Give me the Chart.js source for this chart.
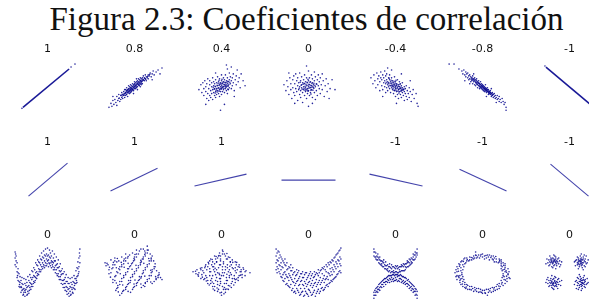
<!DOCTYPE html>
<html><head><meta charset="utf-8">
<script src="https://cdn.jsdelivr.net/npm/chart.js@4/dist/chart.umd.min.js"></script>
<style>
html,body{margin:0;padding:0;background:#fff;width:589px;height:300px;overflow:hidden;position:relative}
#title{position:absolute;left:48px;top:3px;width:517px;text-align:center;white-space:nowrap;font-family:"Liberation Serif",serif;font-size:33px;line-height:33px;color:#111}
canvas{position:absolute}
</style></head><body>
<div id="title">Figura 2.3: Coeficientes de correlación</div>
<script>
// ---- labels ----
const row1Labels = ['1','0.8','0.4','0','-0.4','-0.8','-1'];
const row2Labels = ['1','1','1',' ','-1','-1','-1'];
const row3Labels = ['0','0','0','0','0','0','0'];

// ---- row 1 data (x, y offsets in panel units) ----
const lineRow1Pos = [[-25,-21],[22,18]];
const dotsRow1Pos = [[-26,-22],[24,20],[28,23]];
const lineRow1Neg = [[-24,20],[26,-22]];
const dotsRow1Neg = [[-25,21]];
const cloud08 = [[-26,-21],[-24,-17],[-23,-20],[-22,-14],[-21,-18],[-20,-13],[-19,-16],[-18,-10],[-17,-14],[-16,-12],[-16,-8],[-15,-15],[-14,-9],[-14,-13],[-13,-6],[-13,-11],[-12,-8],[-12,-12],[-11,-5],[-11,-9],[-10,-7],[-10,-11],[-10,-3],[-9,-6],[-9,-9],[-8,-4],[-8,-8],[-8,-1],[-7,-6],[-7,-3],[-7,-10],[-6,-5],[-6,-2],[-6,1],[-5,-4],[-5,-7],[-5,0],[-4,-3],[-4,-1],[-4,2],[-4,-6],[-3,-2],[-3,1],[-3,-5],[-2,0],[-2,-3],[-2,3],[-1,-1],[-1,2],[-1,-4],[0,0],[0,3],[0,-2],[0,5],[1,1],[1,-2],[1,4],[2,2],[2,-1],[2,5],[3,3],[3,0],[3,6],[3,-3],[4,2],[4,5],[4,8],[5,4],[5,1],[5,7],[6,3],[6,6],[6,9],[7,5],[7,2],[7,8],[8,6],[8,9],[8,3],[9,7],[9,11],[10,6],[10,9],[11,8],[11,12],[12,10],[12,6],[13,9],[14,12],[14,8],[15,11],[16,14],[17,10],[18,13],[19,16],[20,12],[22,15],[24,17],[28,19],[26,13],[-22,-10],[-18,-19],[18,7],[-1,-7],[2,8],[-9,-3],[6,0],
[-12.5,-9.5],[-11.5,-7.5],[-10.5,-8.5],[-9.5,-6.5],[-8.5,-5.5],[-8.5,-7.5],[-7.5,-4.5],[-6.5,-3.5],[-6.5,-6.5],[-5.5,-2.5],[-5.5,-5.5],[-4.5,-4.5],[-4.5,-1.5],[-3.5,-3.5],[-3.5,-0.5],[-2.5,-1.5],[-2.5,-3.5],[-1.5,0.5],[-1.5,-2.5],[-0.5,1.5],[-0.5,-0.5],[0.5,0.5],[0.5,2.5],[1.5,1.5],[1.5,-0.5],[2.5,3.5],[2.5,0.5],[3.5,2.5],[3.5,4.5],[4.5,3.5],[4.5,1.5],[5.5,5.5],[5.5,2.5],[6.5,4.5],[6.5,6.5],[7.5,5.5],[7.5,3.5],[8.5,7.5],[9.5,6.5],[10.5,8.5],[11.5,7.5],[-13.5,-8.5],[13.5,10.5],[-15.5,-11.5],[15.5,12.5]];
const cloud04 = [[-23,-3],[-21,2],[-20,-6],[-19,4],[-18,-2],[-18,-9],[-17,6],[-16,0],[-16,-5],[-15,-12],[-15,3],[-14,-7],[-14,8],[-13,-2],[-13,-14],[-12,2],[-12,-9],[-12,6],[-11,-4],[-11,-11],[-10,0],[-10,4],[-10,-7],[-9,-3],[-9,9],[-9,-13],[-8,1],[-8,-6],[-8,5],[-7,-2],[-7,-9],[-7,3],[-6,-5],[-6,0],[-6,7],[-6,-11],[-5,-2],[-5,4],[-5,-8],[-4,1],[-4,-4],[-4,10],[-3,-1],[-3,5],[-3,-7],[-2,2],[-2,-3],[-2,8],[-2,-10],[-1,0],[-1,4],[-1,-5],[0,1],[0,-2],[0,6],[0,-8],[0,12],[1,3],[1,-1],[1,-5],[2,0],[2,5],[2,-3],[2,9],[3,2],[3,-6],[3,7],[4,1],[4,-2],[4,4],[4,12],[5,-4],[5,6],[5,0],[6,3],[6,-7],[6,9],[7,1],[7,5],[7,-3],[8,7],[8,-1],[8,14],[9,3],[9,10],[10,-2],[10,6],[11,1],[11,9],[12,4],[12,13],[13,-4],[14,7],[15,2],[15,11],[16,17],[17,5],[18,9],[19,-1],[20,13],[22,6],[24,1],[3,-18],[-1,-24],[10,20],[-6,14],[13,-10],[-16,-18],[6,18],[5,22],
[-7.5,-2.5],[-6.5,0.5],[-5.5,-3.5],[-4.5,1.5],[-4.5,-5.5],[-3.5,-1.5],[-3.5,3.5],[-2.5,-4.5],[-2.5,1.5],[-1.5,-1.5],[-1.5,3.5],[-0.5,-2.5],[-0.5,2.5],[0.5,-0.5],[0.5,3.5],[1.5,0.5],[1.5,4.5],[2.5,-1.5],[2.5,2.5],[3.5,0.5],[3.5,4.5],[4.5,-0.5],[4.5,2.5],[5.5,1.5],[5.5,4.5],[6.5,0.5],[6.5,5.5],[7.5,2.5],[-8.5,-0.5],[8.5,4.5],[-6.5,-6.5],[6.5,-2.5],[0.5,7.5],[-2.5,6.5]];
const cloud00 = [[-25,2],[-23,-4],[-22,6],[-21,0],[-20,-8],[-19,9],[-18,3],[-18,-3],[-17,-12],[-16,7],[-16,-1],[-15,11],[-15,-6],[-14,3],[-14,-9],[-13,-2],[-13,13],[-12,6],[-12,-5],[-11,1],[-11,-14],[-11,9],[-10,-3],[-10,4],[-9,-8],[-9,0],[-9,14],[-8,6],[-8,-4],[-8,-11],[-7,2],[-7,-1],[-7,10],[-6,-6],[-6,4],[-6,-16],[-5,0],[-5,7],[-5,-3],[-4,-9],[-4,3],[-4,12],[-3,-1],[-3,5],[-3,-5],[-2,1],[-2,9],[-2,-12],[-1,-2],[-1,4],[-1,-7],[0,0],[0,6],[0,-4],[0,16],[0,-20],[1,2],[1,-9],[1,9],[2,-1],[2,5],[2,-6],[3,1],[3,12],[3,-3],[4,4],[4,-11],[4,8],[5,-1],[5,2],[6,-6],[6,6],[6,15],[7,0],[7,-13],[7,10],[8,3],[8,-4],[9,7],[9,-9],[10,1],[10,12],[11,-2],[11,5],[12,-7],[12,9],[13,2],[14,-3],[14,13],[15,6],[16,-10],[17,1],[18,8],[19,-5],[20,3],[22,-2],[24,7],[27,-3],[-20,14],[-2,21],[4,-17],[21,-12],[-14,-17],
[-7.5,1.5],[-6.5,-2.5],[-5.5,2.5],[-4.5,-1.5],[-4.5,3.5],[-3.5,0.5],[-3.5,-3.5],[-2.5,2.5],[-2.5,-2.5],[-1.5,-3.5],[-1.5,4.5],[-0.5,1.5],[-0.5,-4.5],[0.5,2.5],[0.5,-1.5],[1.5,-0.5],[1.5,4.5],[2.5,1.5],[2.5,-3.5],[3.5,3.5],[3.5,-0.5],[4.5,0.5],[4.5,-3.5],[5.5,3.5],[5.5,-1.5],[6.5,1.5],[-8.5,4.5],[-0.5,7.5],[2.5,-7.5],[8.5,2.5],[-9.5,-1.5]];
const cloudNeg04 = [[-25,9],[-23,3],[-22,12],[-21,6],[-20,-1],[-19,14],[-18,8],[-18,2],[-17,11],[-16,-4],[-16,5],[-15,15],[-15,9],[-14,1],[-14,7],[-13,12],[-13,-3],[-12,4],[-12,9],[-11,0],[-11,16],[-11,6],[-10,-6],[-10,3],[-10,11],[-9,7],[-9,-1],[-9,13],[-8,2],[-8,5],[-8,-4],[-7,9],[-7,0],[-7,4],[-6,-2],[-6,7],[-6,12],[-5,1],[-5,-6],[-5,5],[-4,3],[-4,-1],[-4,9],[-3,6],[-3,-3],[-3,1],[-2,-7],[-2,4],[-2,0],[-1,2],[-1,-4],[-1,10],[0,0],[0,5],[0,-2],[0,-10],[1,3],[1,-5],[1,1],[2,-1],[2,7],[2,-8],[3,2],[3,-3],[3,-12],[4,0],[4,-5],[4,5],[5,-2],[5,-8],[5,3],[6,-4],[6,1],[6,-11],[7,-1],[7,-6],[7,4],[8,-3],[8,-9],[9,0],[9,-5],[9,-14],[10,-2],[10,-7],[11,-10],[11,1],[12,-4],[12,-13],[13,-7],[14,-1],[14,-11],[15,-5],[16,-15],[17,-8],[18,-3],[19,-12],[21,-7],[23,-20],[22,-17],[-4,17],[6,13],[-13,-10],[15,6],[1,-17],[-8,19],
[-7.5,3.5],[-6.5,1.5],[-5.5,3.5],[-4.5,1.5],[-4.5,6.5],[-3.5,0.5],[-3.5,4.5],[-2.5,2.5],[-2.5,-1.5],[-1.5,1.5],[-1.5,5.5],[-0.5,-0.5],[-0.5,3.5],[0.5,1.5],[0.5,-3.5],[1.5,-1.5],[1.5,2.5],[2.5,0.5],[2.5,-4.5],[3.5,0.5],[3.5,-2.5],[4.5,-1.5],[4.5,2.5],[5.5,-0.5],[5.5,-4.5],[6.5,-2.5],[7.5,-3.5],[-9.5,4.5],[-6.5,8.5],[-1.5,-3.5],[3.5,-6.5],[8.5,-2.5],[0.5,6.5]];
const cloudNeg08 = [[-21,16],[-20,13],[-19,17],[-18,12],[-17,15],[-17,10],[-16,13],[-15,9],[-15,14],[-14,11],[-14,7],[-13,12],[-13,8],[-12,10],[-12,5],[-11,9],[-11,6],[-10,11],[-10,7],[-10,3],[-9,8],[-9,5],[-8,9],[-8,6],[-8,2],[-7,7],[-7,4],[-7,1],[-6,6],[-6,3],[-6,8],[-5,5],[-5,2],[-5,-1],[-4,4],[-4,1],[-4,6],[-3,3],[-3,0],[-3,-2],[-2,2],[-2,5],[-2,-1],[-1,1],[-1,-2],[-1,3],[0,0],[0,2],[0,-3],[1,-1],[1,1],[1,-4],[2,-2],[2,0],[2,-5],[3,-3],[3,-1],[3,2],[4,-4],[4,-2],[4,-6],[5,-3],[5,-5],[5,-1],[6,-6],[6,-3],[6,-8],[7,-5],[7,-7],[8,-4],[8,-8],[8,-6],[9,-7],[9,-10],[10,-6],[10,-9],[11,-8],[11,-11],[12,-10],[12,-7],[13,-12],[13,-9],[14,-11],[15,-9],[15,-13],[16,-12],[17,-10],[17,-15],[18,-13],[19,-16],[20,-12],[21,-15],[22,-18],[23,-16],[24,-21],[24,-24],[-29,23],[-34,23],[-24,18],[-18,6],[-9,13],[9,-2],[14,-16],[-13,3],[4,-10],
[-9.5,6.5],[-8.5,7.5],[-7.5,5.5],[-6.5,4.5],[-5.5,4.5],[-5.5,2.5],[-4.5,3.5],[-3.5,1.5],[-3.5,3.5],[-2.5,0.5],[-2.5,2.5],[-1.5,0.5],[-1.5,-0.5],[-0.5,-0.5],[-0.5,1.5],[0.5,-1.5],[0.5,0.5],[1.5,-2.5],[1.5,-0.5],[2.5,-1.5],[2.5,-3.5],[3.5,-2.5],[3.5,-4.5],[4.5,-3.5],[5.5,-4.5],[6.5,-4.5],[6.5,-6.5],[7.5,-5.5],[8.5,-6.5],[9.5,-8.5],[-10.5,8.5],[10.5,-7.5],[-11.5,7.5]];

// ---- row 2 data: segment end points ----
const row2Lines = [
  [[-19,-16],[20,17]],
  [[-24,-11],[23,12]],
  [[-27,-6],[25,6]],
  [[-27,0],[27,0]],
  [[-26,6],[27,-6]],
  [[-23,11],[24,-11]],
  [[-19,16],[19,-16]]
];

// ---- row 3 data ----
const shapeW = [[-33,8],[-33,21],[-32,6],[-32,17],[-31,-5],[-31,10],[-30,-8],[-30,4],[-29,-14],[-29,-1],[-28,-15],[-28,-4],[-27,-20],[-27,-8],[-26,-18],[-26,-5],[-25,-23],[-25,-12],[-24,-20],[-24,-6],[-23,-24],[-23,-11],[-22,-17],[-22,-7],[-21,-23],[-21,-10],[-20,-19],[-20,-4],[-19,-21],[-19,-8],[-18,-15],[-18,-2],[-17,-17],[-17,-5],[-16,-12],[-16,2],[-15,-14],[-15,1],[-14,-9],[-14,5],[-13,-10],[-13,3],[-12,-5],[-12,10],[-11,-6],[-11,8],[-10,-1],[-10,13],[-9,-2],[-9,11],[-8,3],[-8,17],[-7,1],[-7,14],[-6,6],[-6,20],[-5,4],[-5,16],[-4,8],[-4,22],[-3,5],[-3,18],[-2,10],[-2,24],[-1,7],[-1,19],[0,12],[0,25],[1,6],[1,18],[2,9],[2,23],[3,7],[3,20],[4,5],[4,17],[5,8],[5,22],[6,3],[6,15],[7,5],[7,19],[8,0],[8,12],[9,3],[9,16],[10,-3],[10,9],[11,-1],[11,13],[12,-7],[12,6],[13,-4],[13,9],[14,-11],[14,2],[15,-8],[15,4],[16,-15],[16,-1],[17,-11],[17,1],[18,-18],[18,-5],[19,-14],[19,-2],[20,-22],[20,-9],[21,-17],[21,-5],[22,-24],[22,-11],[23,-19],[23,-6],[24,-22],[24,-10],[25,-17],[25,-5],[26,-21],[26,-9],[27,-16],[27,-3],[28,-17],[28,-6],[29,-11],[29,2],[30,-10],[30,5],[31,-3],[31,11],[32,1],[32,15],[33,10],[33,24],
[-33,15],[-31,1],[-29,-9],[-27,-14],[-25,-17],[-23,-18],[-21,-15],[-19,-13],[-17,-11],[-15,-5],[-13,-4],[-11,1],[-9,4],[-7,8],[-5,10],[-3,12],[-1,14],[1,13],[3,15],[5,11],[7,12],[9,8],[11,5],[13,1],[15,-1],[17,-7],[19,-9],[21,-11],[23,-14],[25,-12],[27,-10],[29,-6],[31,4],[33,17],
[-32,12],[-30,0],[-28,-10],[-26,-11],[-24,-16],[-22,-13],[-20,-14],[-18,-10],[-16,-7],[-14,-3],[-12,0],[-10,7],[-8,10],[-6,13],[-4,15],[-2,17],[0,17],[2,16],[4,12],[6,10],[8,7],[10,5],[12,2],[14,-2],[16,-8],[18,-11],[20,-15],[22,-16],[24,-15],[26,-15],[28,-11],[30,-4],[32,6],
[-32.5,19],[-30.5,-3],[-28.5,-12],[-26.5,-15],[-24.5,-22],[-22.5,-20],[-20.5,-22],[-18.5,-18],[-16.5,-14],[-14.5,-11],[-12.5,-8],[-10.5,-3],[-8.5,1],[-6.5,3],[-4.5,6],[-2.5,7],[-0.5,9],[1.5,10],[3.5,10],[5.5,6],[7.5,3],[9.5,-1],[11.5,-4],[13.5,-7],[15.5,-12],[17.5,-15],[19.5,-19],[21.5,-21],[23.5,-23],[25.5,-20],[27.5,-13],[29.5,-8],[31.5,-1],[32.5,20]];
const shapeSquare = [[-30,10],[-24,13],[-20,15],[-13,16],[-9,19],[-2,20],[2,23],[9,24],[13,27],
[-29,7],[-22,8],[-18,11],[-11,12],[-7,15],[0,16],[4,19],[11,20],[14,23],
[-26,3],[-22,5],[-15,6],[-11,9],[-3,9],[0,13],[8,14],[11,17],[18,17],
[-26,-1],[-18,1],[-15,3],[-7,4],[-4,7],[4,7],[7,11],[15,12],[17,15],
[-22,-7],[-19,-3],[-11,-3],[-7,1],[0,1],[4,5],[11,5],[15,9],[21,9],
[-22,-10],[-15,-9],[-11,-5],[-4,-5],[0,-1],[8,-1],[11,3],[18,3],[21,6],
[-18,-16],[-15,-12],[-7,-12],[-4,-8],[4,-8],[7,-4],[15,-3],[18,1],[25,0],
[-19,-18],[-11,-18],[-8,-14],[0,-14],[3,-10],[11,-10],[15,-6],[22,-6],[25,-2],
[-15,-23],[-12,-19],[-4,-20],[-1,-15],[7,-15],[11,-11],[18,-11],[22,-7],[28,-7],
[-27,8],[-20,12],[-16,12],[-9,15],[-5,18],[2,19],[5,22],[13,23],
[-23,4],[-20,8],[-13,8],[-9,12],[-1,12],[2,16],[9,16],[13,20],
[-24,0],[-16,4],[-13,6],[-5,6],[-2,10],[6,10],[9,14],[17,14],
[-20,-4],[-17,0],[-9,0],[-6,4],[2,4],[6,8],[13,8],[17,12],
[-20,-8],[-13,-6],[-9,-2],[-2,-2],[2,2],[9,2],[13,6],[20,6],
[-17,-13],[-13,-9],[-6,-8],[-2,-4],[5,-4],[9,0],[17,0],[20,4],
[-17,-15],[-9,-15],[-6,-11],[2,-11],[5,-7],[13,-7],[17,-3],[24,-3],
[-13,-21],[-9,-17],[-2,-17],[2,-13],[9,-13],[13,-9],[20,-9],[24,-5],
[-28,9.5],[-21.5,10.5],[-17.5,14.5],[-10.5,14],[-6.5,16.5],[0.5,18.5],[6.5,24],[10.5,22],[-25.5,5.5],[-18.5,5],[-13.5,10.5],[-6.5,9.5],[-0.5,14.5],[6.5,12.5],[10.5,18.5],[16,19],[-24.5,-4.5],[-14.5,-1],[-10.5,5.5],[-2.5,3.5],[1.5,7.5],[9.5,9.5],[14.5,14.5],[19.5,12],[-18.5,-10.5],[-12,-12.5],[-4.5,-10],[0.5,-7.5],[6.5,-5.5],[10.5,-3.5],[16.5,2.5],[22.5,2],[-16.5,-19.5],[-6.5,-19],[-0.5,-11.5],[6.5,-11.5],[10.5,-14],[16.5,-9.5],[21.5,-4],[26.5,-5]];
const shapeDiamond = [[-29,1],[-25,3],[-24,-2],[-21,-6],[-23,0],[-20,5],[-18,-7],[-16,-3],[-19,2],[-16,8],[-14,-11],[-15,-5],[-12,1],[-14,6],[-12,12],[-9,-14],[-11,-8],[-9,-3],[-12,4],[-10,8],[-11,14],[-7,-18],[-8,-11],[-5,-5],[-7,1],[-8,6],[-5,11],[-7,17],[-4,-19],[-2,-13],[-4,-9],[-2,-2],[-5,3],[-2,8],[-4,15],[-2,20],[0,-23],[2,-17],[-1,-11],[-1,-6],[1,0],[1,6],[-1,12],[-1,17],[1,23],[4,-20],[3,-15],[5,-8],[2,-3],[4,3],[2,9],[5,14],[3,19],[7,-17],[5,-11],[8,-5],[7,1],[6,5],[9,11],[7,16],[10,-15],[11,-9],[10,-2],[12,4],[10,8],[11,13],[14,-10],[13,-6],[15,0],[14,5],[14,11],[17,-8],[18,-3],[16,3],[18,8],[21,-5],[20,1],[22,5],[24,-3],[25,2],[29,0],
[-26,-1],[-21,3],[-20,-2],[-17,-6],[-18,0],[-17,5],[-14,-8],[-12,-3],[-15,3],[-13,9],[-11,-11],[-10,-6],[-11,1],[-9,6],[-9,11],[-7,-14],[-6,-8],[-6,-2],[-8,3],[-7,9],[-6,14],[-3,-17],[-4,-12],[-2,-6],[-4,0],[-3,5],[-5,11],[-3,17],[0,-20],[1,-14],[-1,-9],[0,-3],[1,3],[-1,8],[-1,14],[1,19],[4,-17],[3,-11],[5,-5],[3,0],[4,6],[2,11],[4,17],[7,-13],[6,-8],[8,-3],[8,3],[6,8],[6,14],[10,-11],[11,-6],[9,0],[11,5],[9,11],[14,-7],[13,-3],[14,2],[15,8],[17,-5],[19,1],[17,6],[21,-2],[20,3],[24,1],
[-23.5,-3.5],[-19.5,-4.5],[-15.5,-8.5],[-12.5,-12.5],[-8.5,-16.5],[-4.5,-15.5],[-1.5,-20.5],[2.5,-21.5],[5.5,-16.5],[8.5,-13.5],[12.5,-12.5],[15.5,-6.5],[19.5,-2.5],[22.5,3.5],[18.5,5.5],[15.5,10.5],[11.5,10.5],[8.5,15.5],[5.5,19.5],[1.5,21.5],[-2.5,17.5],[-5.5,16.5],[-9.5,13.5],[-13.5,10.5],[-16.5,6.5],[-21.5,4.5],[-26.5,1.5],[-2.5,-0.5],[5.5,-1.5],[-6.5,4.5],[8.5,6.5],[-9.5,-9.5]];
const shapeParabola = [[-33,3],[-33,10],[-33,17],[-33,24],[-32,0],[-32,6],[-32,13],[-32,20],[-30,1],[-30,8],[-30,15],[-30,21],[-28,-4],[-28,3],[-28,10],[-28,16],[-26,-8],[-26,-2],[-26,5],[-26,12],[-24,-6],[-24,1],[-24,8],[-24,14],[-22,-11],[-22,-4],[-22,3],[-22,10],[-20,-14],[-20,-8],[-20,-1],[-20,6],[-18,-12],[-18,-5],[-18,2],[-18,8],[-16,-16],[-16,-9],[-16,-2],[-16,5],[-14,-19],[-14,-13],[-14,-6],[-14,1],[-12,-16],[-12,-9],[-12,-2],[-12,3],[-10,-20],[-10,-13],[-10,-6],[-10,2],[-8,-22],[-8,-16],[-8,-9],[-8,-1],[-6,-19],[-6,-12],[-6,-5],[-6,1],[-4,-23],[-4,-16],[-4,-9],[-4,-2],[-2,-21],[-2,-14],[-2,-7],[-2,0],[0,-24],[0,-17],[0,-10],[0,-3],[2,-20],[2,-13],[2,-6],[2,1],[4,-22],[4,-15],[4,-8],[4,-1],[6,-18],[6,-11],[6,-4],[6,1],[8,-21],[8,-14],[8,-7],[8,0],[10,-17],[10,-10],[10,-3],[10,3],[12,-19],[12,-12],[12,-5],[12,2],[14,-15],[14,-8],[14,-1],[14,5],[16,-17],[16,-10],[16,-3],[16,6],[18,-13],[18,-6],[18,1],[18,8],[20,-14],[20,-7],[20,0],[20,10],[22,-10],[22,-3],[22,4],[22,11],[24,-9],[24,-2],[24,5],[24,13],[26,-6],[26,1],[26,8],[26,15],[28,-4],[28,4],[28,11],[28,18],[30,-1],[30,6],[30,13],[30,20],[32,2],[32,9],[32,16],[32,23],[33,0],[33,7],[33,14],[33,25],
[-31,4],[-31,12],[-31,22],[-29,-1],[-29,7],[-29,18],[-27,-5],[-27,6],[-27,14],[-25,-9],[-25,0],[-25,10],[-23,-12],[-23,-2],[-23,7],[-21,-13],[-21,-5],[-21,4],[-19,-15],[-19,-3],[-19,5],[-17,-18],[-17,-7],[-17,2],[-15,-20],[-15,-10],[-15,0],[-13,-21],[-13,-11],[-13,-3],[-11,-18],[-11,-8],[-11,0],[-9,-23],[-9,-12],[-9,-4],[-7,-20],[-7,-8],[-7,-1],[-5,-24],[-5,-13],[-5,-5],[-3,-19],[-3,-11],[-3,0],[-1,-22],[-1,-12],[-1,-5],[1,-18],[1,-9],[1,-1],[3,-23],[3,-11],[3,-3],[5,-20],[5,-13],[5,-5],[7,-24],[7,-10],[7,-2],[9,-19],[9,-12],[9,-1],[11,-21],[11,-8],[11,0],[13,-16],[13,-10],[13,3],[15,-18],[15,-6],[15,4],[17,-15],[17,-7],[17,3],[19,-12],[19,-4],[19,6],[21,-11],[21,-1],[21,8],[23,-8],[23,1],[23,10],[25,-7],[25,3],[25,12],[27,-5],[27,6],[27,16],[29,-2],[29,9],[29,19],[31,1],[31,12],[31,22]];
const shapeX = [[-22,17],[-22,21],[-22,24],[-20,14],[-20,16],[-20,20],[-18,13],[-18,16],[-18,19],[-16,9],[-16,13],[-16,16],[-14,7],[-14,9],[-14,12],[-12,6],[-12,10],[-12,13],[-10,4],[-10,7],[-10,11],[-8,2],[-8,4],[-8,8],[-6,2],[-6,6],[-6,9],[-4,1],[-4,4],[-4,8],[-2,0],[-2,2],[-2,6],[0,1],[0,4],[0,7],[2,0],[2,4],[2,7],[4,1],[4,3],[4,6],[6,2],[6,6],[6,8],[8,2],[8,6],[8,9],[10,3],[10,6],[10,9],[12,6],[12,10],[12,12],[14,7],[14,10],[14,14],[16,9],[16,11],[16,15],[18,13],[18,16],[18,19],[20,14],[20,18],[20,21],[22,18],[22,20],[22,24],
[-21,16],[-21,21],[-19,13],[-19,17],[-17,10],[-17,15],[-15,8],[-15,12],[-13,6],[-13,11],[-11,4],[-11,8],[-9,3],[-9,7],[-7,1],[-7,6],[-5,0],[-5,5],[-3,1],[-3,6],[-1,0],[-1,5],[1,1],[1,6],[3,0],[3,5],[5,1],[5,6],[7,2],[7,7],[9,2],[9,8],[11,5],[11,9],[13,6],[13,11],[15,8],[15,13],[17,10],[17,14],[19,13],[19,18],[21,16],[21,20],
[-22,-20],[-22,-23],[-22,-26],[-20,-16],[-20,-20],[-20,-23],[-18,-14],[-18,-17],[-18,-20],[-16,-11],[-16,-15],[-16,-18],[-14,-9],[-14,-12],[-14,-15],[-12,-7],[-12,-10],[-12,-14],[-10,-6],[-10,-9],[-10,-12],[-8,-4],[-8,-7],[-8,-10],[-6,-3],[-6,-6],[-6,-10],[-4,-3],[-4,-5],[-4,-9],[-2,-2],[-2,-6],[-2,-9],[0,-2],[0,-5],[0,-8],[2,-2],[2,-4],[2,-9],[4,-3],[4,-6],[4,-9],[6,-3],[6,-7],[6,-10],[8,-4],[8,-8],[8,-11],[10,-5],[10,-9],[10,-12],[12,-8],[12,-11],[12,-14],[14,-9],[14,-13],[14,-16],[16,-11],[16,-14],[16,-18],[18,-13],[18,-17],[18,-20],[20,-16],[20,-19],[20,-23],[22,-19],[22,-23],[22,-26],
[-21,-18],[-21,-23],[-19,-15],[-19,-19],[-17,-12],[-17,-17],[-15,-10],[-15,-14],[-13,-8],[-13,-12],[-11,-6],[-11,-10],[-9,-5],[-9,-9],[-7,-3],[-7,-8],[-5,-3],[-5,-7],[-3,-2],[-3,-7],[-1,-3],[-1,-8],[1,-2],[1,-7],[3,-3],[3,-8],[5,-2],[5,-6],[7,-4],[7,-9],[9,-5],[9,-10],[11,-6],[11,-11],[13,-7],[13,-12],[15,-10],[15,-15],[17,-12],[17,-16],[19,-14],[19,-19],[21,-17],[21,-22]];
const shapeRing = [[21,-1],[26,-1],[23,1],[27,1],[20,2],[24,2],[21,3],[26,4],[23,5],[19,4],[23,7],[20,6],[23,9],[19,7],[19,9],[21,10],[16,10],[19,11],[17,11],[19,13],[14,11],[17,14],[12,11],[14,14],[12,15],[11,13],[11,17],[10,14],[7,13],[9,17],[6,16],[7,18],[4,15],[5,18],[2,17],[2,14],[0,16],[0,19],
[-21,0],[-26,1],[-22,2],[-27,3],[-20,3],[-25,4],[-22,5],[-26,6],[-23,8],[-19,6],[-24,9],[-20,8],[-22,11],[-18,9],[-17,10],[-21,12],[-16,12],[-19,14],[-14,12],[-18,15],[-13,13],[-16,15],[-11,13],[-13,16],[-10,15],[-9,14],[-9,17],[-8,15],[-6,15],[-7,18],[-5,16],[-4,18],[-3,15],[-2,17],
[-21,-2],[-26,-3],[-23,-3],[-27,-4],[-20,-4],[-24,-5],[-21,-6],[-26,-7],[-23,-8],[-19,-7],[-23,-10],[-20,-9],[-22,-12],[-18,-10],[-18,-12],[-20,-14],[-16,-12],[-18,-15],[-15,-13],[-17,-16],[-13,-14],[-15,-17],[-11,-14],[-13,-17],[-10,-16],[-8,-15],[-9,-19],[-6,-16],[-6,-19],[-4,-16],[-4,-20],[-2,-17],[-1,-20],[0,-18],[0,-21],
[21,-3],[26,-2],[22,-4],[27,-5],[20,-5],[25,-6],[22,-7],[25,-9],[19,-8],[23,-11],[20,-10],[21,-13],[17,-11],[18,-14],[15,-12],[17,-16],[14,-14],[15,-17],[12,-15],[13,-18],[10,-15],[11,-19],[8,-16],[9,-20],[6,-17],[6,-20],[4,-17],[3,-21],[2,-18],
[28,-6],[-28,0],[5,-23],[-7,21],
[24.5,0.5],[22.5,3.5],[21.5,7.5],[17.5,12.5],[13.5,16.5],[8.5,15.5],[3.5,17.5],[-1.5,18.5],[-6.5,17.5],[-11.5,15.5],[-15.5,13.5],[-19.5,11.5],[-23.5,6.5],[-24.5,1.5],[-24.5,-3.5],[-22.5,-6.5],[-20.5,-11.5],[-16.5,-14.5],[-11.5,-17.5],[-7.5,-17.5],[-2.5,-19.5],[2.5,-20.5],[7.5,-18.5],[11.5,-16.5],[16.5,-13.5],[19.5,-11.5],[23.5,-7.5],[24.5,-3.5]];
const shapeClusters = [[-16,11],[-15,13],[-18,12],[-14,10],[-17,9],[-13,12],[-19,10],[-16,14],[-15,8],[-18,14],[-14,14],[-19,13],[-13,9],[-17,15],[-12,11],[-20,11],[-16,7],[-14,16],[-21,13],[-11,9],[-18,6],[-12,14],[-20,8],[-13,7],[-19,15],[-10,12],[-22,10],[-15,17],[-17,5],[-11,15],[-21,7],[-9,8],[-23,14],[-16,18],[-14,4],[-20,17],[-10,6],[-8,11],[-24,9],[-15,12],[-17,10],[-14,11],[-18,11],[-16,12],
[12,11],[10,12],[11,9],[13,13],[14,10],[11,14],[13,8],[9,11],[15,12],[9,9],[9,13],[10,8],[14,14],[8,10],[12,15],[12,7],[16,11],[7,13],[10,6],[14,16],[17,9],[9,15],[15,7],[16,14],[8,8],[11,17],[13,5],[6,12],[18,10],[8,16],[16,6],[15,18],[9,4],[5,11],[19,13],[6,7],[17,17],[12,19],[14,3],[11,12],[13,10],[12,13],[12,9],[11,11],
[-16,-10],[-17,-12],[-14,-11],[-18,-9],[-15,-8],[-19,-11],[-13,-9],[-16,-13],[-17,-7],[-14,-13],[-18,-13],[-13,-12],[-19,-8],[-15,-14],[-20,-10],[-12,-10],[-16,-6],[-18,-15],[-11,-12],[-21,-8],[-14,-5],[-20,-13],[-12,-7],[-19,-6],[-13,-14],[-22,-11],[-10,-9],[-17,-16],[-15,-4],[-21,-14],[-11,-6],[-23,-7],[-9,-13],[-16,-17],[-18,-3],[-12,-16],[-22,-5],[-24,-10],[-8,-8],[-17,-11],[-15,-9],[-18,-10],[-14,-10],[-16,-11],
[12,-10],[14,-11],[13,-8],[11,-12],[10,-9],[13,-13],[11,-7],[15,-10],[9,-11],[15,-8],[15,-12],[14,-7],[10,-13],[16,-9],[12,-14],[12,-6],[8,-10],[17,-12],[14,-5],[10,-15],[7,-8],[15,-14],[9,-6],[8,-13],[16,-7],[13,-16],[11,-4],[18,-11],[6,-9],[16,-15],[8,-5],[9,-17],[15,-3],[19,-10],[5,-12],[18,-6],[7,-16],[12,-18],[10,-2],[13,-11],[11,-9],[12,-12],[12,-8],[13,-10]];

// ---- layout & drawing ----
const colCenters = [47,134,221,308,395,482,569];
const rowTitleY = [50,143,236];
const DOT = 'rgba(0,0,140,0.85)';
const LINE = 'rgba(0,0,140,0.9)';
const LINE2 = 'rgba(20,20,150,0.8)';
const toXY = a => a.map(p => ({x:p[0], y:p[1]}));
const cloud = pts => ({data: toXY(pts), showLine:false, pointRadius:0.8, pointHoverRadius:0.8, pointBackgroundColor:DOT, pointBorderWidth:0});
const seg = (pts, w, col) => ({data: toXY(pts), showLine:true, borderColor:col, borderWidth:w, pointRadius:0, fill:false});

function panel(row, col, label, datasets){
  const c = document.createElement('canvas');
  c.width = 87; c.height = 77;
  c.style.left = Math.round(colCenters[col] - 43.5) + 'px';
  c.style.top = (rowTitleY[row] - 10) + 'px';
  document.body.appendChild(c);
  new Chart(c, {
    type: 'scatter',
    data: {datasets},
    options: {
      responsive:false, animation:false, devicePixelRatio:1,
      layout:{padding:0},
      plugins:{
        legend:{display:false}, tooltip:{enabled:false},
        title:{display:true, text:label, color:'#111', font:{family:'DejaVu Sans', size:11, weight:'normal'}, padding:{top:3, bottom:1}}
      },
      scales:{
        x:{type:'linear', display:false, min:-43.5, max:43.5},
        y:{type:'linear', display:false, min:-30, max:30}
      }
    }
  });
}

// row 1
panel(0,0,row1Labels[0],[seg(lineRow1Pos,1.6,LINE), cloud(dotsRow1Pos)]);
panel(0,1,row1Labels[1],[cloud(cloud08)]);
panel(0,2,row1Labels[2],[cloud(cloud04)]);
panel(0,3,row1Labels[3],[cloud(cloud00)]);
panel(0,4,row1Labels[4],[cloud(cloudNeg04)]);
panel(0,5,row1Labels[5],[cloud(cloudNeg08)]);
panel(0,6,row1Labels[6],[seg(lineRow1Neg,1.6,LINE), cloud(dotsRow1Neg)]);
// row 2
row2Lines.forEach((ln,i) => panel(1,i,row2Labels[i],[seg(ln,1.1,LINE2)]));
// row 3
const row3Shapes = [shapeW, shapeSquare, shapeDiamond, shapeParabola, shapeX, shapeRing, shapeClusters];
row3Shapes.forEach((s,i) => panel(2,i,row3Labels[i],[cloud(s)]));
</script>
</body></html>
